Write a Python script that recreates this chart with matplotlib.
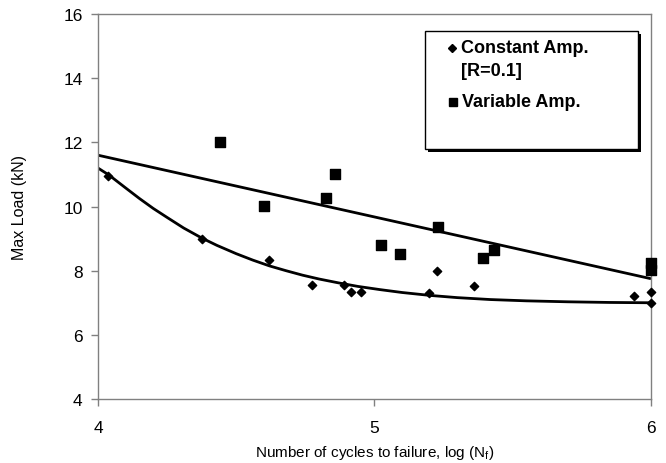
import matplotlib
matplotlib.use("Agg")
import matplotlib.pyplot as plt
from matplotlib.patches import Rectangle

plt.rcParams['font.family'] = ['Liberation Sans', 'DejaVu Sans']

# Constant amplitude data (diamonds)
const_x = [4.036, 4.375, 4.62, 4.775, 4.89, 4.914, 4.95, 5.198, 5.228, 5.36, 5.94, 6.0, 6.0]
const_y = [10.95, 9.0, 8.33, 7.55, 7.55, 7.35, 7.35, 7.3, 7.98, 7.52, 7.2, 7.35, 6.98]

# Variable amplitude data (squares)
var_x = [4.441, 4.601, 4.824, 4.857, 5.022, 5.092, 5.23, 5.393, 5.433, 6.0, 6.0]
var_y = [12.0, 10.02, 10.28, 11.0, 8.8, 8.53, 9.35, 8.4, 8.63, 8.25, 8.03]

# Trend lines
const_trend_x = [4.0, 4.04, 4.1, 4.15, 4.2, 4.25, 4.31, 4.375, 4.43, 4.5, 4.56, 4.62, 4.68, 4.74,
                 4.8, 4.87, 4.94, 5.02, 5.1, 5.2, 5.3, 5.42, 5.55, 5.7, 5.85, 6.0]
const_trend_y = [11.2, 10.98, 10.58, 10.25, 9.94, 9.66, 9.33, 9.02, 8.79, 8.53, 8.33, 8.15, 8.0, 7.86,
                 7.74, 7.62, 7.51, 7.41, 7.32, 7.23, 7.16, 7.1, 7.06, 7.03, 7.01, 7.0]
var_trend_x = [4.0, 6.0]
var_trend_y = [11.6, 7.75]

x_ticks = [4, 5, 6]
y_ticks = [4, 6, 8, 10, 12, 14, 16]

legend_labels = ['Constant Amp.', '[R=0.1]', 'Variable Amp.']

fig = plt.figure(figsize=(6.66, 4.64), dpi=100)
ax = fig.add_axes([0.1471, 0.1379, 0.8303, 0.8297])

ax.plot(const_trend_x, const_trend_y, color='black', lw=2.0, zorder=2, solid_capstyle='butt')
ax.plot(var_trend_x, var_trend_y, color='black', lw=2.0, zorder=2, solid_capstyle='butt')
ax.scatter(const_x, const_y, marker='D', s=18, color='black', zorder=3, clip_on=False)
ax.scatter(var_x, var_y, marker='s', s=44, color='black', zorder=3, clip_on=False)

ax.set_xlim(4, 6)
ax.set_ylim(4, 16)
ax.set_xticks(x_ticks)
ax.set_yticks(y_ticks)
ax.tick_params(axis='both', labelsize=12.5, direction='out', length=5, color='#808080', width=1)
ax.tick_params(axis='x', pad=10)
ax.tick_params(axis='y', pad=6)
for s in ax.spines.values():
    s.set_color('#808080')
    s.set_linewidth(1)

ax.set_xlabel('Number of cycles to failure, log (N$_\\mathregular{f}$)', fontsize=11, labelpad=6)
ax.set_ylabel('Max Load (kN)', fontsize=11.5, labelpad=26)

# Legend box with shadow
x0, y0, w, h = 0.591, 0.650, 0.385, 0.306
ax.add_patch(Rectangle((x0 + 0.006, y0 - 0.009), w, h, transform=ax.transAxes,
                       facecolor='black', edgecolor='none', zorder=4, clip_on=False))
ax.add_patch(Rectangle((x0, y0), w, h, transform=ax.transAxes,
                       facecolor='white', edgecolor='black', lw=1, zorder=5, clip_on=False))
ax.plot([0.640], [0.912], marker='D', ms=4, color='black', transform=ax.transAxes, zorder=6, clip_on=False)
ax.plot([0.642], [0.772], marker='s', ms=6, color='black', transform=ax.transAxes, zorder=6, clip_on=False)
txt_kw = dict(transform=ax.transAxes, fontsize=13, fontweight='bold', va='center', ha='left', zorder=6)
ax.text(0.656, 0.914, legend_labels[0], **txt_kw)
ax.text(0.656, 0.853, legend_labels[1], **txt_kw)
ax.text(0.658, 0.772, legend_labels[2], **txt_kw)

fig.savefig('out.png', dpi=100)
